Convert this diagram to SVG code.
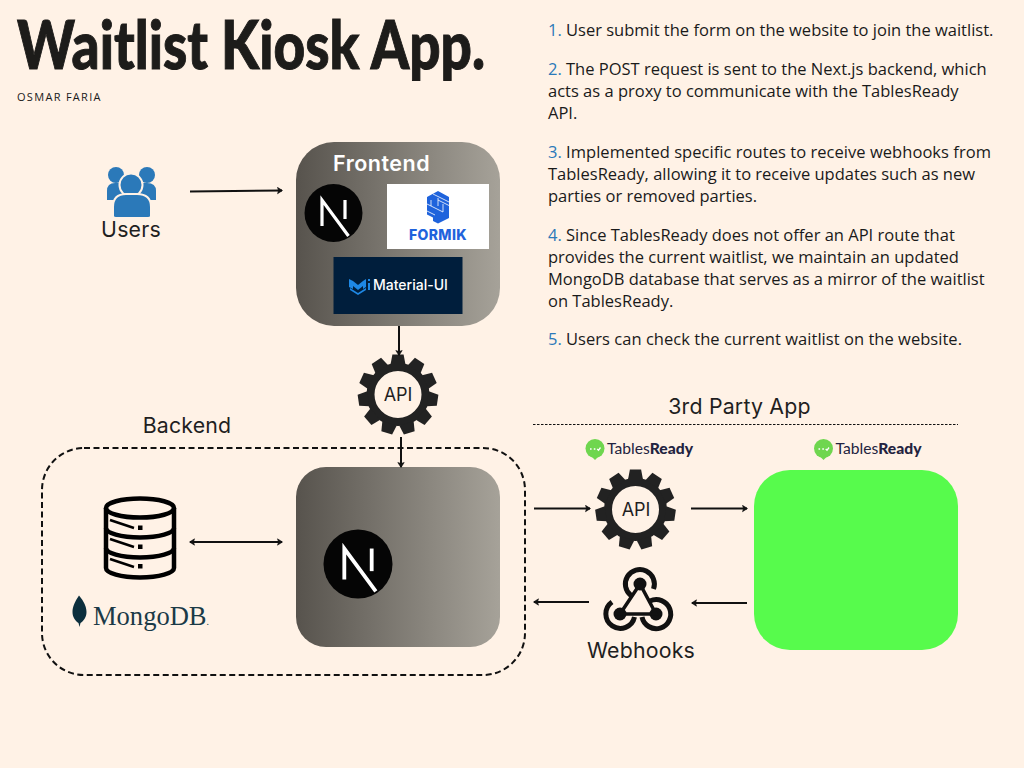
<svg xmlns="http://www.w3.org/2000/svg" xmlns:xlink="http://www.w3.org/1999/xlink" width="1024" height="768" viewBox="0 0 1024 768">
<style>
.t{font-family:"Open Sans","Liberation Sans",sans-serif;font-size:16.5px;fill:#1a1a1a}
.n{font-family:"Open Sans","Liberation Sans",sans-serif;font-size:16.5px;fill:#2b79b9}
.l{font-family:"Inter","Liberation Sans",sans-serif;font-size:21.3px;letter-spacing:.2px;fill:#1f1f1f}
.conn{stroke:#111;stroke-width:2;fill:none}
.tr{font-family:"Lato","Liberation Sans",sans-serif;font-size:15px;fill:#23233f}
</style>
<defs>
<linearGradient id="grey" x1="0" x2="1" y1="0" y2="0"><stop offset="0" stop-color="#57534d"/><stop offset="1" stop-color="#a6a299"/></linearGradient>
<marker id="ah" markerWidth="8" markerHeight="8" refX="6" refY="4" orient="auto-start-reverse" markerUnits="userSpaceOnUse"><path d="M1.5 0.8 L6.5 4 L1.5 7.2 L2.5 4Z" fill="#111" stroke="#111" stroke-width=".6"/></marker>
<polygon id="tooth" points="-7.5,-30 -5.6,-40 5.6,-40 7.5,-30" fill="#222"/>
<g id="gear">
<circle r="27.5" fill="none" stroke="#222" stroke-width="8"/>
<use xlink:href="#tooth"/>
<use xlink:href="#tooth" transform="rotate(32.73)"/>
<use xlink:href="#tooth" transform="rotate(65.45)"/>
<use xlink:href="#tooth" transform="rotate(98.18)"/>
<use xlink:href="#tooth" transform="rotate(130.91)"/>
<use xlink:href="#tooth" transform="rotate(163.64)"/>
<use xlink:href="#tooth" transform="rotate(196.36)"/>
<use xlink:href="#tooth" transform="rotate(229.09)"/>
<use xlink:href="#tooth" transform="rotate(261.82)"/>
<use xlink:href="#tooth" transform="rotate(294.55)"/>
<use xlink:href="#tooth" transform="rotate(327.27)"/>
</g>
<g id="next">
<circle r="29" fill="#050505"/>
<path d="M-11.500 13 V-13 L15 23" stroke="#fff" stroke-width="3.200" fill="none"/>
<path d="M11.500 -13 V6" stroke="#fff" stroke-width="3.200" fill="none"/>
</g>
<g id="tr">
<circle cx="10" cy="0" r="9.500" fill="#6fd64f"/>
<path d="M6.500 8 L10 11.500 L13.500 8Z" fill="#6fd64f"/>
<path d="M5 0.500h1.600M8.800 0.500h1.600M12.200 0.500l1.300 1.300 2-2.800" stroke="#fff" stroke-width="1.300" fill="none"/>
<text class="tr" x="22" y="5" textLength="86" lengthAdjust="spacingAndGlyphs">Tables<tspan font-weight="900">Ready</tspan></text>
</g>
</defs>

<rect width="1024" height="768" fill="#fff2e6"/>

<text id="title" x="17" y="69" font-family="Lato,'Liberation Sans',sans-serif" font-weight="900" font-size="66" fill="#1d1c1a" stroke="#1d1c1a" stroke-width="1" textLength="468" lengthAdjust="spacingAndGlyphs">Waitlist Kiosk App.</text>
<text id="author" x="17" y="101" font-family="'Open Sans','Liberation Sans',sans-serif" font-size="11" letter-spacing="1.300" fill="#1a1a1a">OSMAR FARIA</text>

<g id="steps">
<text class="n" x="548" y="36">1.</text><text class="t" x="566" y="36">User submit the form on the website to join the waitlist.</text>
<text class="n" x="548" y="75">2.</text><text class="t" x="566" y="75">The POST request is sent to the Next.js backend, which</text>
<text class="t" x="548" y="97">acts as a proxy to communicate with the TablesReady</text>
<text class="t" x="548" y="119">API.</text>
<text class="n" x="548" y="158">3.</text><text class="t" x="566" y="158" textLength="425">Implemented specific routes to receive webhooks from</text>
<text class="t" x="548" y="180">TablesReady, allowing it to receive updates such as new</text>
<text class="t" x="548" y="202">parties or removed parties.</text>
<text class="n" x="548" y="241">4.</text><text class="t" x="566" y="241">Since TablesReady does not offer an API route that</text>
<text class="t" x="548" y="263">provides the current waitlist, we maintain an updated</text>
<text class="t" x="548" y="285">MongoDB database that serves as a mirror of the waitlist</text>
<text class="t" x="548" y="307">on TablesReady.</text>
<text class="n" x="548" y="345">5.</text><text class="t" x="566" y="345" textLength="396">Users can check the current waitlist on the website.</text>
</g>

<g id="users">
<g fill="#2b79b9">
<circle cx="116" cy="175" r="8"/><circle cx="147" cy="175" r="8"/>
<path d="M107 200v-9q0-8 8-8h32q9 0 9 8v9Z"/>
<circle cx="131" cy="185" r="11.500" stroke="#fff2e6" stroke-width="2"/>
<path d="M113 216v-9q0-13 13-13h11q14 0 14 13v9q0 2-3 2h-32q-3 0-3-2Z" stroke="#fff2e6" stroke-width="2"/>
</g>
<text class="l" x="131" y="237" text-anchor="middle">Users</text>
</g>

<g id="frontend">
<rect x="296" y="142" width="204" height="184" rx="38" fill="url(#grey)"/>
<text x="333" y="171" font-family="Inter,'Liberation Sans',sans-serif" font-size="21.500" letter-spacing=".5" font-weight="600" fill="#fff">Frontend</text>
<use xlink:href="#next" transform="translate(333.500,213)"/>
<rect x="387" y="184" width="102" height="65" fill="#fff"/>
<g fill="#1f63dc">
<path d="M427 197l11-6 11 6v21l-11 5.500-5-2.500v-3.500l-6-3Z"/>
<path d="M427 204l16 8M427 211l8 4M433 194l16 8M438 200l11 5.500M431 200v6M438 198v8M443 204v8" stroke="#fff" stroke-width=".8" fill="none"/>
</g>
<text x="438" y="240" text-anchor="middle" font-family="Inter,'Liberation Sans',sans-serif" font-weight="800" font-size="14" letter-spacing=".4" fill="#1f63dc">FORMIK</text>
<rect x="333.500" y="257" width="129" height="57" fill="#001e3c"/>
<path d="M349 279l4 2 5 4 5-4 3-2v8l-3 2v-3l-5 4-5-4v3l-4-2ZM350 290l8 5 8-5v-2l-8 5-8-5Z" fill="#1e88e5"/>
<path d="M369 279v2M369 283v7" stroke="#1e88e5" stroke-width="2"/>
<text x="373" y="290" font-family="Inter,'Liberation Sans',sans-serif" font-weight="500" font-size="14" fill="#fff">Material-UI</text>
</g>

<g id="api-gear">
<use xlink:href="#gear" transform="translate(398,394.500)"/>
<text x="398" y="401" text-anchor="middle" font-family="Inter,'Liberation Sans',sans-serif" font-size="18" fill="#1f1f1f">API</text>
</g>

<text class="l" x="187" y="433" text-anchor="middle">Backend</text>
<g id="backend">
<rect x="42" y="448" width="483" height="227" rx="42" fill="none" stroke="#111" stroke-width="2" stroke-dasharray="6 3.500"/>
<rect x="296" y="467" width="204" height="180" rx="30" fill="url(#grey)"/>
<use xlink:href="#next" transform="translate(358,564) scale(1.190)"/>
</g>

<g id="mongodb">
<g fill="none" stroke="#000" stroke-width="4.500">
<ellipse cx="140" cy="508" rx="34" ry="9.500"/>
<path d="M106 508v60c0 5 15 9.500 34 9.500s34-4.500 34-9.500v-60"/>
<path d="M106 528c0 5 15 9.500 34 9.500s34-4.500 34-9.500M106 548c0 5 15 9.500 34 9.500s34-4.500 34-9.500"/>
</g>
<path d="M110 520l24 8M110 539l24 8M110 559l24 8" stroke="#000" stroke-width="2.500"/>
<rect x="138" y="525.500" width="4.500" height="4.500"/><rect x="138" y="544.500" width="4.500" height="4.500"/><rect x="138" y="564" width="4.500" height="4.500"/>
<path d="M79 595.500c5 6 7.500 11 7.500 16.500s-3 9-6 11l-1 4-1-4c-3-2-6-5.500-6-11s2.500-10.500 6.500-16.500Z" fill="#0c2f3d"/>
<text x="93" y="625" font-family="'Liberation Serif',serif" font-size="27" fill="#1b3a47" textLength="116" lengthAdjust="spacingAndGlyphs">MongoDB<tspan font-size="10">.</tspan></text>
</g>

<text class="l" x="739.500" y="414" text-anchor="middle" font-size="22">3rd Party App</text>
<line x1="533" y1="424.500" x2="958" y2="424.500" stroke="#111" stroke-width="1.200" stroke-dasharray="2.500 1.500"/>

<g id="tr-api">
<use xlink:href="#tr" transform="translate(585,448.500)"/>
<use xlink:href="#gear" transform="translate(635.500,509.500)"/>
<text x="636" y="516" text-anchor="middle" font-family="Inter,'Liberation Sans',sans-serif" font-size="18" fill="#1f1f1f">API</text>
</g>

<g id="webhooks" fill="none" stroke="#111">
<circle cx="640" cy="584" r="6.500" fill="#111" stroke="none"/>
<circle cx="620" cy="614" r="6.500" fill="#111" stroke="none"/>
<circle cx="656" cy="614" r="6.500" fill="#111" stroke="none"/>
<path d="M640 584L620 614H656L640 584" stroke-width="3.500"/>
<path d="M631 595.500A14.500 14.500 0 1 1 653.500 589" stroke-width="5"/>
<path d="M612 602A14.500 14.500 0 1 0 634.500 617" stroke-width="5"/>
<path d="M642 617A14.500 14.500 0 1 0 650 601" stroke-width="5"/>
<text x="641" y="658" text-anchor="middle" class="l" stroke="none">Webhooks</text>
</g>

<g id="tablesready">
<use xlink:href="#tr" transform="translate(813.500,448.500)"/>
<rect x="754" y="470" width="204" height="180" rx="36" fill="#57fb4c"/>
</g>

<g id="connectors">
<line class="conn" x1="190" y1="191.500" x2="282" y2="190.500" marker-end="url(#ah)"/>
<line class="conn" x1="399" y1="326" x2="399" y2="355" marker-end="url(#ah)"/>
<line class="conn" x1="401" y1="437" x2="401" y2="467" marker-end="url(#ah)"/>
<line class="conn" x1="190" y1="542" x2="282" y2="542" marker-start="url(#ah)" marker-end="url(#ah)"/>
<line class="conn" x1="534" y1="508.500" x2="590" y2="508.500" marker-end="url(#ah)"/>
<line class="conn" x1="691" y1="508.500" x2="747" y2="508.500" marker-end="url(#ah)"/>
<line class="conn" x1="589" y1="602" x2="534" y2="602" marker-end="url(#ah)"/>
<line class="conn" x1="747" y1="603" x2="692" y2="603" marker-end="url(#ah)"/>
</g>
</svg>
